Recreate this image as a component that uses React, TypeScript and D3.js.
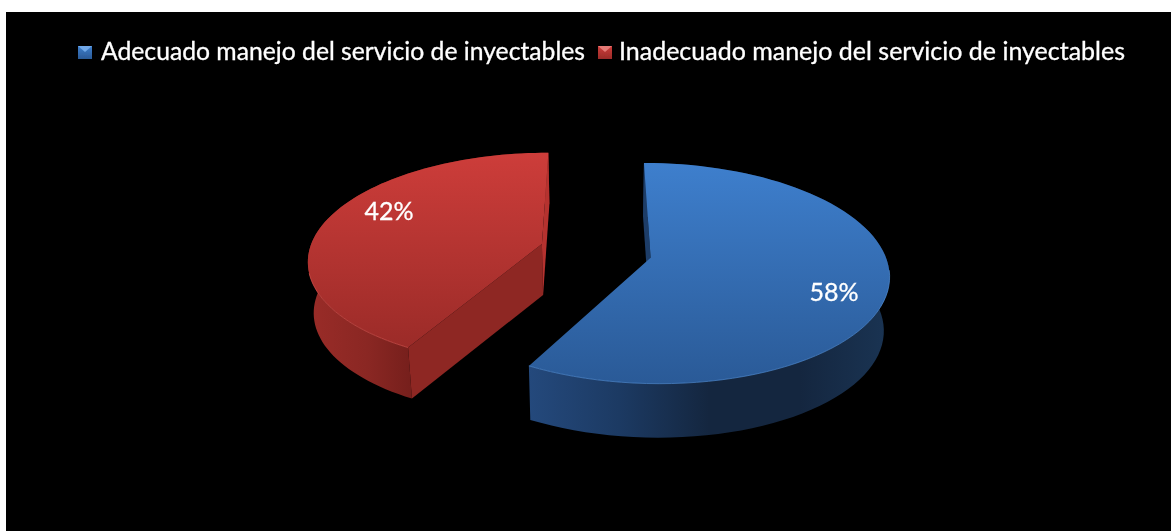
import React from "react";
import * as d3 from "d3";

const categories = [
  "Adecuado manejo del servicio de inyectables",
  "Inadecuado manejo del servicio de inyectables",
];
const values = [58, 42];
const labels = ["58%", "42%"];
const topColors = [
  ["#3e7fcd", "#2a5a97"],
  ["#cd3d3a", "#9b2b28"],
];
const wallStops = [
  ["#24497c", "#1c3a63", "#14263f", "#14263f", "#1a3453"],
  ["#9a2c28", "#8a2723", "#6e1c19", "#6e1c19", "#6e1c19"],
];
const rimColors = ["#4f8ad2", "#d2504c"];
const legendLight = ["#6fa8e8", "#e57a76"];
const labelPos = [
  [834, 301],
  [389, 220],
];
const legendX = [78, 598];
const legendTextX = [101, 619];
const legendTextW = [484, 506];

const W = 1171;
const H = 531;
const cx = 596.5;
const cy = 250;
const A = 233;
const B = 106;
const k = 0.14;
const explodeU = 0.2375;
const explodeV = 0.289;
const depth = [54, 51];
const nudge = [
  [0, 0],
  [-1.5, 1.5],
];
const shrinkC = 600;
const shrink = 0.98;

const pie = d3.pie<number>().sort(null).startAngle(0).endAngle(2 * Math.PI);
const arcs = pie(values);

function project(u: number, v: number, n: number[]): [number, number] {
  const d = 1 - k * v;
  return [cx + n[0] + (A * u) / d, cy + n[1] + (B * v) / d];
}
function lower(p: [number, number], h: number): [number, number] {
  return [shrinkC + (p[0] - shrinkC) * shrink, p[1] + h];
}
const line = d3.line<[number, number]>();

export default function App() {
  const slices = arcs.map((a, i) => {
    const mid = (a.startAngle + a.endAngle) / 2;
    const du = explodeU * Math.sin(mid);
    const dv = -explodeV * Math.cos(mid);
    const steps = d3.range(0, 81).map((t) => a.startAngle + ((a.endAngle - a.startAngle) * t) / 80);
    const rim = steps.map((t) => project(Math.sin(t) + du, -Math.cos(t) + dv, nudge[i]));
    const apex = project(du, dv, nudge[i]);
    const h = depth[i];
    const low = rim.map((p) => lower(p, h));
    const apexLow = lower(apex, h);
    const first = rim[0];
    const last = rim[rim.length - 1];
    const xs = d3.extent(rim.map((p) => p[0])) as [number, number];
    const ys = d3.extent([...rim.map((p) => p[1]), apex[1]]) as [number, number];
    return {
      i,
      top: line([apex, ...rim])! + "Z",
      wall: line([...rim, ...low.slice().reverse()])! + "Z",
      cutStart: line([first, apex, apexLow, lower(first, h)])! + "Z",
      cutEnd: line([last, apex, apexLow, lower(last, h)])! + "Z",
      rimPath: line(rim.filter((p) => p[1] > cy + 20))!,
      xs,
      ys,
    };
  });

  return (
    <svg
      width={W}
      height={H}
      viewBox={`0 0 ${W} ${H}`}
      style={{ position: "absolute", left: 0, top: 0, display: "block", background: "#fff" }}
    >
      <defs>
        <filter id="soft" x="-5%" y="-20%" width="110%" height="140%">
          <feGaussianBlur stdDeviation="0.4" />
        </filter>
        {slices.map((s) => (
          <React.Fragment key={s.i}>
            <linearGradient id={`top${s.i}`} gradientUnits="userSpaceOnUse" x1="0" x2="0" y1={s.ys[0]} y2={s.ys[1]}>
              <stop offset="0" stopColor={topColors[s.i][0]} />
              <stop offset="1" stopColor={topColors[s.i][1]} />
            </linearGradient>
            <linearGradient id={`wall${s.i}`} gradientUnits="userSpaceOnUse" x1={s.xs[0]} x2={s.xs[1]} y1="0" y2="0">
              {wallStops[s.i].map((c, j) => (
                <stop key={j} offset={j / (wallStops[s.i].length - 1)} stopColor={c} />
              ))}
            </linearGradient>
          </React.Fragment>
        ))}
        {categories.map((_, i) => (
          <linearGradient key={i} id={`mk${i}`} x1="0" x2="0" y1="0" y2="1">
            <stop offset="0" stopColor={topColors[i][0]} />
            <stop offset="1" stopColor={topColors[i][1]} />
          </linearGradient>
        ))}
      </defs>
      <rect x={6} y={12} width={W - 6} height={H - 12} fill="#000" />
      {slices.map((s) => (
        <g key={s.i}>
          <path d={s.wall} fill={`url(#wall${s.i})`} />
          {s.i === 0 ? (
            <path d={s.cutStart} fill="#1d3d68" />
          ) : (
            <>
              <path d={s.cutStart} fill="#8e2723" />
              <path d={s.cutEnd} fill="#b5322f" />
            </>
          )}
          <path d={s.top} fill={`url(#top${s.i})`} />
          <path d={s.rimPath} fill="none" stroke={rimColors[s.i]} strokeWidth={1} opacity={0.7} />
        </g>
      ))}
      <g fontFamily="Lato, 'Open Sans', sans-serif" fill="#fff" stroke="#fff" strokeWidth={0.3} filter="url(#soft)">
        {labels.map((t, i) => (
          <text key={t} x={labelPos[i][0]} y={labelPos[i][1]} fontSize={25} textAnchor="middle">
            {t}
          </text>
        ))}
        {categories.map((t, i) => (
          <text
            key={t}
            x={legendTextX[i]}
            y={60}
            fontSize={24.5}
            textLength={legendTextW[i]}
            lengthAdjust="spacingAndGlyphs"
          >
            {t}
          </text>
        ))}
      </g>
      {categories.map((_, i) => (
        <g key={i} filter="url(#soft)">
          <rect x={legendX[i]} y={46} width={14} height={13} fill={`url(#mk${i})`} />
          <path
            d={line([
              [legendX[i], 46],
              [legendX[i] + 14, 46],
              [legendX[i] + 7, 52],
            ])! + "Z"}
            fill={legendLight[i]}
          />
        </g>
      ))}
    </svg>
  );
}
